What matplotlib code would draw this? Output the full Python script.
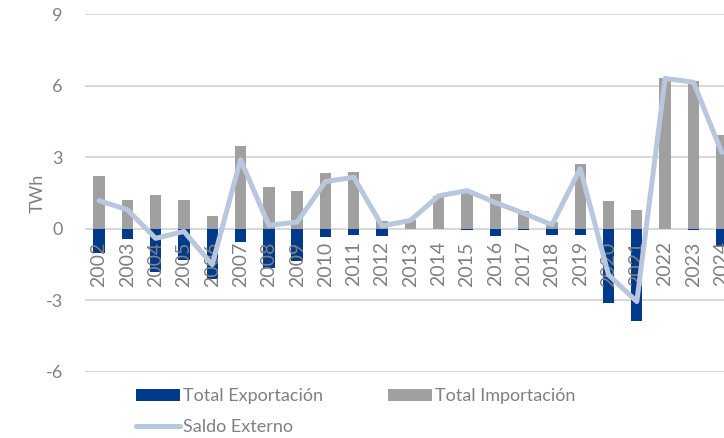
import matplotlib.pyplot as plt
import numpy as np

years = [str(y) for y in range(2002, 2025)]
exportacion = [-1.02, -0.43, -1.80, -1.30, -2.11, -0.57, -1.65, -1.37, -0.36, -0.27,
               -0.29, 0.0, 0.0, -0.04, -0.32, -0.04, -0.28, -0.25, -3.09, -3.86,
               0.0, -0.06, -0.74]
importacion = [2.20, 1.20, 1.43, 1.20, 0.55, 3.45, 1.75, 1.57, 2.34, 2.39,
               0.34, 0.35, 1.38, 1.62, 1.47, 0.75, 0.30, 2.73, 1.17, 0.80,
               6.30, 6.20, 3.94]
saldo = [1.18, 0.80, -0.40, -0.11, -1.50, 2.90, 0.15, 0.28, 1.98, 2.16,
         0.12, 0.35, 1.38, 1.60, 1.10, 0.65, 0.17, 2.52, -1.93, -3.05,
         6.30, 6.14, 3.20]
yticks = [-6, -3, 0, 3, 6, 9]

GRAY_TXT = "#808080"
plt.rcParams["font.family"] = ["Lato", "DejaVu Sans"]
plt.rcParams["axes.unicode_minus"] = False

fig = plt.figure(figsize=(7.24, 4.38), dpi=100)
ax = fig.add_axes([0.1174, 0.1507, 0.8826, 0.8173])

x = np.arange(len(years))
for t in yticks:
    ax.axhline(t, color="#D9D9D9", lw=1.5, zorder=0.5)

b_exp = ax.bar(x, exportacion, width=0.4, color="#003A8C", zorder=1,
               label="Total Exportación")
b_imp = ax.bar(x, importacion, width=0.4, color="#A0A0A0", zorder=1,
               label="Total Importación")
l_sal, = ax.plot(x, saldo, color="#B8C7DD", lw=3.6, solid_joinstyle="round",
                 solid_capstyle="round", zorder=2, label="Saldo Externo")

# spine moved to zero first: set_position resets the tick labels
ax.spines["bottom"].set_position(("data", 0))
for s in ax.spines.values():
    s.set_visible(False)

ax.set_xlim(-0.495, 22.08)
ax.set_ylim(-6, 9)
ax.set_yticks(yticks)
ax.set_xticks(x)
ax.set_xticklabels(years, rotation=90, color=GRAY_TXT, fontsize=14)
ax.tick_params(axis="x", length=0, pad=9)
ax.tick_params(axis="y", length=0, pad=16, labelcolor=GRAY_TXT, labelsize=13)
ax.set_ylabel("TWh", color=GRAY_TXT, fontsize=13, labelpad=0)

ax.legend([b_exp, l_sal, b_imp],
          ["Total Exportación", "Saldo Externo", "Total Importación"],
          ncol=2, loc="upper left", bbox_to_anchor=(0.055, 0.0),
          frameon=False, fontsize=13, labelcolor=GRAY_TXT,
          handlelength=2.4, handleheight=0.6, handletextpad=0.2,
          columnspacing=3.6, labelspacing=0.8)

fig.savefig("out.png", dpi=100)
